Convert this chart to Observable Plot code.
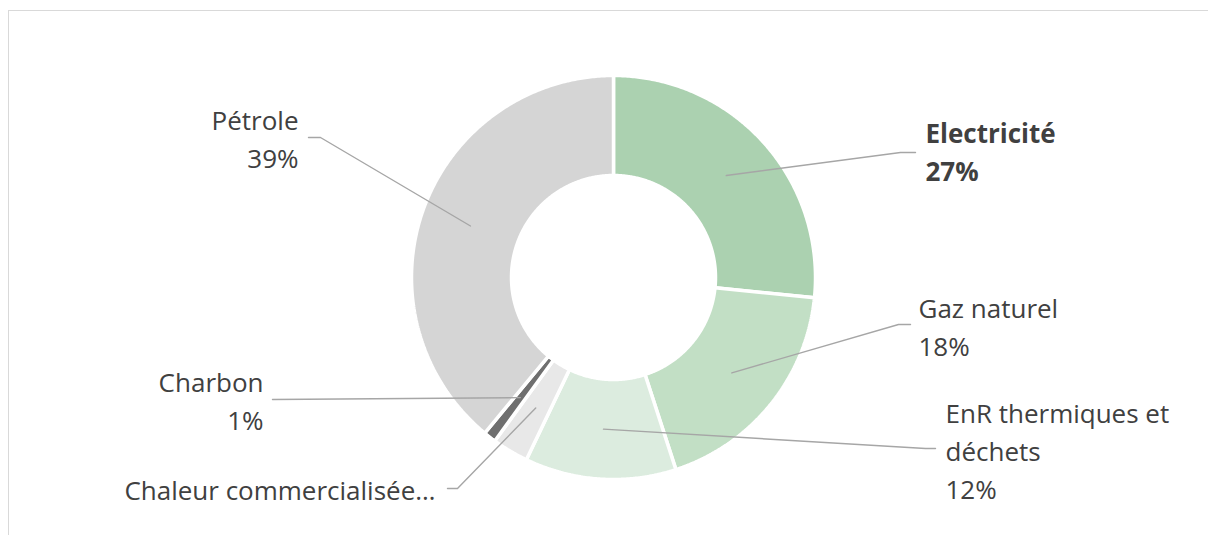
<!DOCTYPE html>
<html>
<head>
<meta charset="utf-8">
<script src="https://cdn.jsdelivr.net/npm/d3@7"></script>
<script src="https://cdn.jsdelivr.net/npm/@observablehq/plot@0.6"></script>
<style>
  html, body { margin: 0; padding: 0; background: #fff; }
  #wrap { position: relative; width: 1208px; height: 535px; overflow: hidden; }
  #frame { position: absolute; left: 8px; top: 10px; right: -10px; bottom: -10px;
           border-top: 1.5px solid #d9d9d9; border-left: 1.5px solid #d9d9d9; }
  #chart { position: absolute; left: 0; top: 0; }
</style>
</head>
<body>
<div id="wrap"><div id="frame"></div><div id="chart"></div></div>
<script>
// ---- data ----
const categories = ["Electricité", "Gaz naturel", "EnR thermiques et déchets", "Chaleur commercialisée", "Charbon", "Pétrole"];
const shares = [26.6, 18.4, 12.1, 2.9, 1.0, 39.0];
const labelTexts = ["Electricité\n27%", "Gaz naturel\n18%", "EnR thermiques et\ndéchets\n12%", "Chaleur commercialisée…", "Charbon\n1%", "Pétrole\n39%"];
const colors = ["#abd1b0", "#c2dfc5", "#dcecdf", "#e8e8e8", "#6f6f6f", "#d5d5d5"];

// ---- layout (units = px relative to donut centre) ----
const R_OUT = 202, R_IN = 102, R_LEADER = 152;
const labelPos = {
  "Electricité": {x: 312, y: -161, anchor: "start", bold: true, elbow: [[287, -125], [302, -125]]},
  "Gaz naturel": {x: 305, y: 14, anchor: "start", bold: false, elbow: [[285, 47], [297, 47]]},
  "EnR thermiques et déchets": {x: 332, y: 119, anchor: "start", bold: false, elbow: [[312, 171], [322, 171]]},
  "Chaleur commercialisée": {x: -178, y: 196, anchor: "end", bold: false, elbow: [[-156, 211], [-166, 211]]},
  "Charbon": {x: -350, y: 88, anchor: "end", bold: false, elbow: [[-341, 122]]},
  "Pétrole": {x: -315, y: -174, anchor: "end", bold: false, elbow: [[-293, -140], [-305, -140]]}
};

const table = categories.map((name, i) => ({name, value: shares[i], label: labelTexts[i]}));
const pie = d3.pie().value(d => d.value).sort(null).startAngle(0).endAngle(2 * Math.PI);
const arcs = pie(table);

const pt = (r, a) => ({x: r * Math.sin(a), y: -r * Math.cos(a)});

// polygon points for each slice
const ring = [];
for (const a of arcs) {
  const n = Math.max(4, Math.ceil((a.endAngle - a.startAngle) / (Math.PI / 360)));
  const pts = [];
  for (let k = 0; k <= n; k++) pts.push(pt(R_OUT, a.startAngle + (a.endAngle - a.startAngle) * k / n));
  for (let k = n; k >= 0; k--) pts.push(pt(R_IN, a.startAngle + (a.endAngle - a.startAngle) * k / n));
  pts.push(pts[0]);
  pts.forEach(p => ring.push({name: a.data.name, x: p.x, y: p.y}));
}

// leader lines
const leaders = [];
for (const a of arcs) {
  const mid = (a.startAngle + a.endAngle) / 2;
  const s = pt(R_LEADER, mid);
  const L = labelPos[a.data.name];
  leaders.push({name: a.data.name, x: s.x, y: s.y});
  for (const [ex, ey] of L.elbow) leaders.push({name: a.data.name, x: ex, y: ey});
}

const labels = table.map(d => ({...d, ...labelPos[d.name]}));

const textCommon = {x: "x", y: "y", text: "label", lineAnchor: "top", fontSize: 26, lineHeight: 1.46, fill: "#404040"};

const chart = Plot.plot({
  width: 1208,
  height: 535,
  margin: 0,
  style: {fontFamily: "'Open Sans', 'Noto Sans', sans-serif", background: "transparent"},
  x: {domain: [-613, 595], axis: null},
  y: {domain: [-277, 258], reverse: true, axis: null},
  color: {domain: categories, range: colors},
  marks: [
    Plot.line(ring, {x: "x", y: "y", z: "name", fill: "name", stroke: "white", strokeWidth: 3.5, strokeLinejoin: "miter", curve: "linear"}),
    Plot.line(leaders, {x: "x", y: "y", z: "name", stroke: "#a6a6a6", strokeWidth: 1.4, curve: "linear"}),
    Plot.text(labels, {...textCommon, filter: d => d.anchor === "start" && d.bold, textAnchor: "start", fontWeight: "bold"}),
    Plot.text(labels, {...textCommon, filter: d => d.anchor === "start" && !d.bold, textAnchor: "start"}),
    Plot.text(labels, {...textCommon, filter: d => d.anchor === "end", textAnchor: "end"})
  ]
});
document.getElementById("chart").appendChild(chart);
</script>
</body>
</html>
